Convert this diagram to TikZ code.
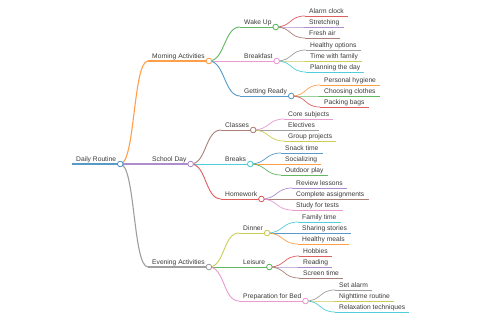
\documentclass[tikz,border=0pt]{standalone}
\usepackage{fontspec}
\setmainfont{Liberation Sans}
\usepackage{xcolor}
\usepackage{tikz}

\definecolor{ink}{HTML}{3A3A3A}
\definecolor{cBlue}{HTML}{1F77B4}
\definecolor{cOrange}{HTML}{FF7F0E}
\definecolor{cGreen}{HTML}{2CA02C}
\definecolor{cRed}{HTML}{D62728}
\definecolor{cPurple}{HTML}{9467BD}
\definecolor{cBrown}{HTML}{8C564B}
\definecolor{cPink}{HTML}{E377C2}
\definecolor{cGray}{HTML}{7F7F7F}
\definecolor{cOlive}{HTML}{BCBD22}
\definecolor{cCyan}{HTML}{17BECF}

\begin{document}
\begin{tikzpicture}[x=1pt, y=-1pt,
    lbl/.style 2 args={anchor=south west, inner xsep=4pt, inner ysep=2.4pt, text depth=0pt,
        font=\fontsize{6.7}{8}\selectfont, text=ink,
        append after command={(\tikzlastnode.south west) edge[draw=#1!75, line width=#2] (\tikzlastnode.south east)}},
    link/.style 2 args={draw=#1!75, line width=#2},
    dot/.style={circle, draw=#1!80, fill=white, line width=0.8pt, minimum size=5.6pt, inner sep=0pt}]
    \useasboundingbox[fill=white] (0,0) rectangle (480,320);

    % Root
    \node[lbl={cBlue}{1.4pt}] (root) at (72,164) {Daily Routine};

    % First level
    \node[lbl={cOrange}{1.1pt}] (morn) at (148,61) {Morning Activities};
    \node[lbl={cPurple}{1.1pt}] (school) at (148,164) {School Day};
    \node[lbl={cGray}{1.1pt}] (even) at (148,267) {Evening Activities};

    % Second level
    \node[lbl={cGreen}{0.9pt}] (wake) at (240,27) {Wake Up};
    \node[lbl={cPink}{0.9pt}] (bkfst) at (240,61) {Breakfast};
    \node[lbl={cBlue}{0.9pt}] (ready) at (240,96) {Getting Ready};
    \node[lbl={cBrown}{0.9pt}] (classes) at (221,130) {Classes};
    \node[lbl={cCyan}{0.9pt}] (breaks) at (221,164) {Breaks};
    \node[lbl={cRed}{0.9pt}] (hw) at (221,199) {Homework};
    \node[lbl={cOlive}{0.9pt}] (dinner) at (239,233) {Dinner};
    \node[lbl={cGreen}{0.9pt}] (leisure) at (239,267) {Leisure};
    \node[lbl={cPink}{0.9pt}] (bed) at (239,301) {Preparation for Bed};

    % Leaves
    \node[lbl={cRed}{0.7pt}] (alarm) at (305,16) {Alarm clock};
    \node[lbl={cPurple}{0.7pt}] (stretch) at (305,27) {Stretching};
    \node[lbl={cBrown}{0.7pt}] (air) at (305,38) {Fresh air};
    \node[lbl={cGray}{0.7pt}] (healthy) at (306,50) {Healthy options};
    \node[lbl={cOlive}{0.7pt}] (family) at (306,61) {Time with family};
    \node[lbl={cCyan}{0.7pt}] (plan) at (306,72) {Planning the day};
    \node[lbl={cOrange}{0.7pt}] (hygiene) at (320,85) {Personal hygiene};
    \node[lbl={cGreen}{0.7pt}] (clothes) at (320,96) {Choosing clothes};
    \node[lbl={cRed}{0.7pt}] (bags) at (320,107) {Packing bags};
    \node[lbl={cPink}{0.7pt}] (core) at (284,119) {Core subjects};
    \node[lbl={cGray}{0.7pt}] (elect) at (284,130) {Electives};
    \node[lbl={cOlive}{0.7pt}] (group) at (284,141) {Group projects};
    \node[lbl={cBlue}{0.7pt}] (snack) at (281,153) {Snack time};
    \node[lbl={cOrange}{0.7pt}] (social) at (281,164) {Socializing};
    \node[lbl={cGreen}{0.7pt}] (play) at (281,175) {Outdoor play};
    \node[lbl={cPurple}{0.7pt}] (review) at (292,188) {Review lessons};
    \node[lbl={cBrown}{0.7pt}] (assign) at (292,199) {Complete assignments};
    \node[lbl={cPink}{0.7pt}] (study) at (292,210) {Study for tests};
    \node[lbl={cCyan}{0.7pt}] (famtime) at (298,222) {Family time};
    \node[lbl={cBlue}{0.7pt}] (stories) at (298,233) {Sharing stories};
    \node[lbl={cOrange}{0.7pt}] (meals) at (298,244) {Healthy meals};
    \node[lbl={cRed}{0.7pt}] (hobby) at (299,256) {Hobbies};
    \node[lbl={cPurple}{0.7pt}] (read) at (299,267) {Reading};
    \node[lbl={cBrown}{0.7pt}] (screen) at (299,278) {Screen time};
    \node[lbl={cGray}{0.7pt}] (setalarm) at (335,290) {Set alarm};
    \node[lbl={cOlive}{0.7pt}] (night) at (335,301) {Nighttime routine};
    \node[lbl={cCyan}{0.7pt}] (relax) at (335,312) {Relaxation techniques};

    % Links: root to first level
    \draw[link={cOrange}{1.1pt}] (root.south east) .. controls +(15,0) and +(-15,0) .. (morn.south west);
    \draw[link={cPurple}{1.1pt}] (root.south east) .. controls +(15,0) and +(-15,0) .. (school.south west);
    \draw[link={cGray}{1.1pt}] (root.south east) .. controls +(15,0) and +(-15,0) .. (even.south west);

    % Links: first to second level
    \draw[link={cGreen}{0.9pt}] (morn.south east) .. controls +(16,0) and +(-16,0) .. (wake.south west);
    \draw[link={cPink}{0.9pt}] (morn.south east) .. controls +(16,0) and +(-16,0) .. (bkfst.south west);
    \draw[link={cBlue}{0.9pt}] (morn.south east) .. controls +(16,0) and +(-16,0) .. (ready.south west);
    \draw[link={cBrown}{0.9pt}] (school.south east) .. controls +(16,0) and +(-16,0) .. (classes.south west);
    \draw[link={cCyan}{0.9pt}] (school.south east) .. controls +(16,0) and +(-16,0) .. (breaks.south west);
    \draw[link={cRed}{0.9pt}] (school.south east) .. controls +(16,0) and +(-16,0) .. (hw.south west);
    \draw[link={cOlive}{0.9pt}] (even.south east) .. controls +(16,0) and +(-16,0) .. (dinner.south west);
    \draw[link={cGreen}{0.9pt}] (even.south east) .. controls +(16,0) and +(-16,0) .. (leisure.south west);
    \draw[link={cPink}{0.9pt}] (even.south east) .. controls +(16,0) and +(-16,0) .. (bed.south west);

    % Links: second level to leaves
    \draw[link={cRed}{0.7pt}] (wake.south east) .. controls +(16,0) and +(-16,0) .. (alarm.south west);
    \draw[link={cPurple}{0.7pt}] (wake.south east) .. controls +(16,0) and +(-16,0) .. (stretch.south west);
    \draw[link={cBrown}{0.7pt}] (wake.south east) .. controls +(16,0) and +(-16,0) .. (air.south west);
    \draw[link={cGray}{0.7pt}] (bkfst.south east) .. controls +(16,0) and +(-16,0) .. (healthy.south west);
    \draw[link={cOlive}{0.7pt}] (bkfst.south east) .. controls +(16,0) and +(-16,0) .. (family.south west);
    \draw[link={cCyan}{0.7pt}] (bkfst.south east) .. controls +(16,0) and +(-16,0) .. (plan.south west);
    \draw[link={cOrange}{0.7pt}] (ready.south east) .. controls +(16,0) and +(-16,0) .. (hygiene.south west);
    \draw[link={cGreen}{0.7pt}] (ready.south east) .. controls +(16,0) and +(-16,0) .. (clothes.south west);
    \draw[link={cRed}{0.7pt}] (ready.south east) .. controls +(16,0) and +(-16,0) .. (bags.south west);
    \draw[link={cPink}{0.7pt}] (classes.south east) .. controls +(16,0) and +(-16,0) .. (core.south west);
    \draw[link={cGray}{0.7pt}] (classes.south east) .. controls +(16,0) and +(-16,0) .. (elect.south west);
    \draw[link={cOlive}{0.7pt}] (classes.south east) .. controls +(16,0) and +(-16,0) .. (group.south west);
    \draw[link={cBlue}{0.7pt}] (breaks.south east) .. controls +(16,0) and +(-16,0) .. (snack.south west);
    \draw[link={cOrange}{0.7pt}] (breaks.south east) .. controls +(16,0) and +(-16,0) .. (social.south west);
    \draw[link={cGreen}{0.7pt}] (breaks.south east) .. controls +(16,0) and +(-16,0) .. (play.south west);
    \draw[link={cPurple}{0.7pt}] (hw.south east) .. controls +(16,0) and +(-16,0) .. (review.south west);
    \draw[link={cBrown}{0.7pt}] (hw.south east) .. controls +(16,0) and +(-16,0) .. (assign.south west);
    \draw[link={cPink}{0.7pt}] (hw.south east) .. controls +(16,0) and +(-16,0) .. (study.south west);
    \draw[link={cCyan}{0.7pt}] (dinner.south east) .. controls +(16,0) and +(-16,0) .. (famtime.south west);
    \draw[link={cBlue}{0.7pt}] (dinner.south east) .. controls +(16,0) and +(-16,0) .. (stories.south west);
    \draw[link={cOrange}{0.7pt}] (dinner.south east) .. controls +(16,0) and +(-16,0) .. (meals.south west);
    \draw[link={cRed}{0.7pt}] (leisure.south east) .. controls +(16,0) and +(-16,0) .. (hobby.south west);
    \draw[link={cPurple}{0.7pt}] (leisure.south east) .. controls +(16,0) and +(-16,0) .. (read.south west);
    \draw[link={cBrown}{0.7pt}] (leisure.south east) .. controls +(16,0) and +(-16,0) .. (screen.south west);
    \draw[link={cGray}{0.7pt}] (bed.south east) .. controls +(16,0) and +(-16,0) .. (setalarm.south west);
    \draw[link={cOlive}{0.7pt}] (bed.south east) .. controls +(16,0) and +(-16,0) .. (night.south west);
    \draw[link={cCyan}{0.7pt}] (bed.south east) .. controls +(16,0) and +(-16,0) .. (relax.south west);

    % Fold circles on branching nodes
    \node[dot=cBlue] (rootC) at (root.south east) {};
    \node[dot=cOrange] (mornC) at (morn.south east) {};
    \node[dot=cPurple] (schoolC) at (school.south east) {};
    \node[dot=cGray] (evenC) at (even.south east) {};
    \node[dot=cGreen] (wakeC) at (wake.south east) {};
    \node[dot=cPink] (bkfstC) at (bkfst.south east) {};
    \node[dot=cBlue] (readyC) at (ready.south east) {};
    \node[dot=cBrown] (classesC) at (classes.south east) {};
    \node[dot=cCyan] (breaksC) at (breaks.south east) {};
    \node[dot=cRed] (hwC) at (hw.south east) {};
    \node[dot=cOlive] (dinnerC) at (dinner.south east) {};
    \node[dot=cGreen] (leisureC) at (leisure.south east) {};
    \node[dot=cPink] (bedC) at (bed.south east) {};
\end{tikzpicture}
\end{document}
